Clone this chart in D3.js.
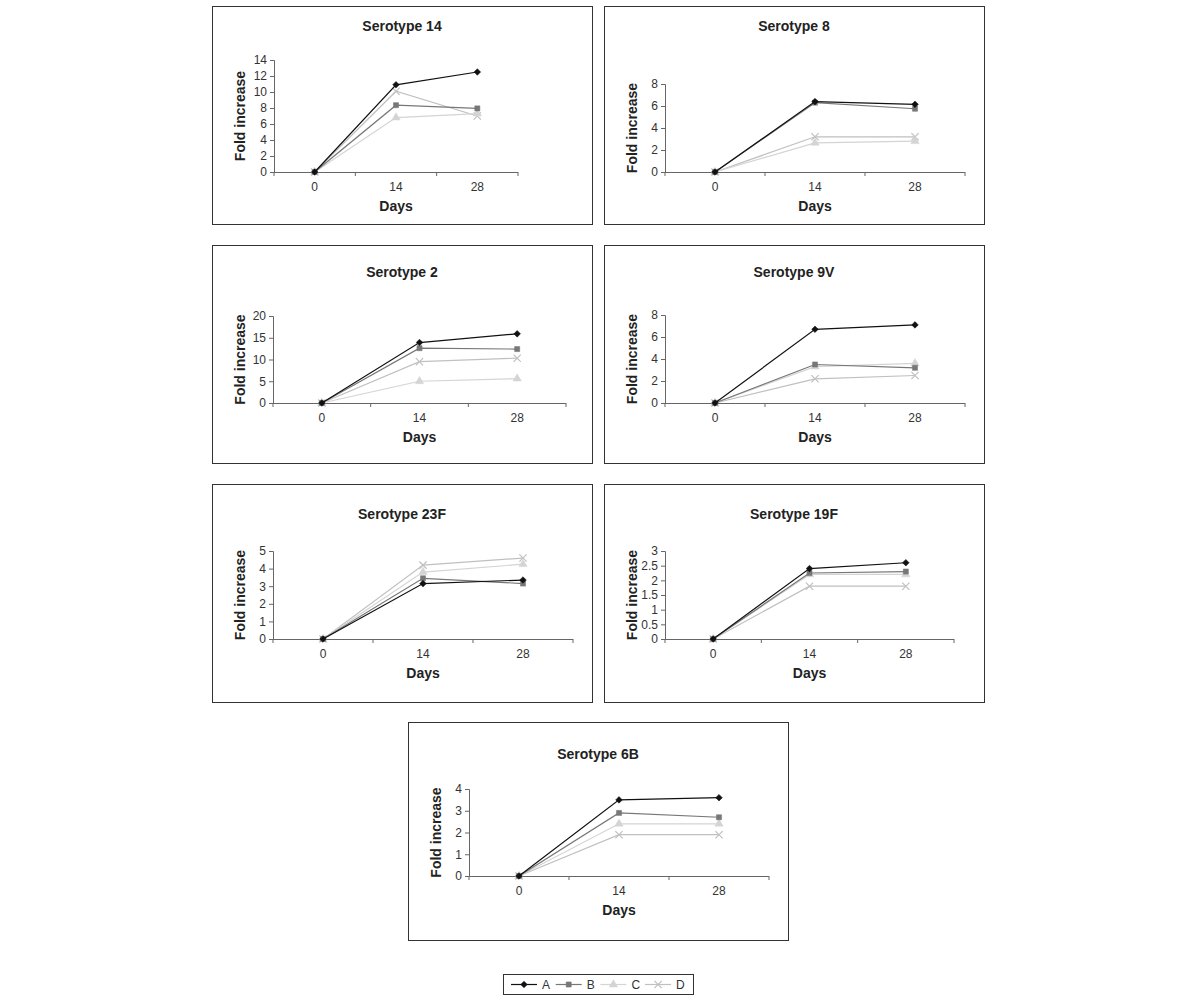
<!DOCTYPE html>
<html>
<head>
<meta charset="utf-8">
<script src="https://d3js.org/d3.v7.min.js"></script>
<style>
body { margin: 0; background: #fff; }
svg { display: block; font-family: "Liberation Sans", Arial, sans-serif; }
.box { fill: #fff; stroke: #333; stroke-width: 1; }
.axis path, .axis line { stroke: #666; }
.axis text { fill: #333; font-size: 12px; }
.title { font-size: 14px; font-weight: bold; fill: #222; }
.alabel { font-size: 14px; font-weight: bold; fill: #222; }
</style>
</head>
<body>
<div id="chart"></div>
<script>
// data
var days = ["0", "14", "28"];
var groups = ["A", "B", "C", "D"];
var titles = ["Serotype 14", "Serotype 8", "Serotype 2", "Serotype 9V", "Serotype 23F", "Serotype 19F", "Serotype 6B"];
var yMax = [14, 8, 20, 8, 5, 3, 4];
var yStep = [2, 2, 5, 2, 1, 0.5, 1];

var valuesA = [[0, 10.9, 12.5], [0, 6.4, 6.15], [0, 13.9, 15.9], [0, 6.7, 7.1], [0, 3.15, 3.35], [0, 2.4, 2.6], [0, 3.5, 3.6]];
var valuesB = [[0, 8.35, 7.95], [0, 6.3, 5.75], [0, 12.6, 12.4], [0, 3.5, 3.2], [0, 3.45, 3.15], [0, 2.25, 2.3], [0, 2.9, 2.7]];
var valuesC = [[0, 6.8, 7.3], [0, 2.65, 2.8], [0, 5.0, 5.6], [0, 3.3, 3.6], [0, 3.8, 4.25], [0, 2.2, 2.2], [0, 2.4, 2.4]];
var valuesD = [[0, 10.1, 7.0], [0, 3.2, 3.2], [0, 9.5, 10.3], [0, 2.2, 2.5], [0, 4.2, 4.6], [0, 1.8, 1.8], [0, 1.9, 1.9]];
var allValues = [valuesA, valuesB, valuesC, valuesD];

// square diamond like the spreadsheet marker
var symbolRhomb = {
    draw: function (ctx, size) {
        var r = Math.sqrt(size) / 2 * Math.SQRT2;
        ctx.moveTo(0, -r); ctx.lineTo(r, 0); ctx.lineTo(0, r); ctx.lineTo(-r, 0); ctx.closePath();
    }
};

// styles
var colors = ["#111", "#777", "#d4d4d4", "#c0c0c0"];
var symbols = [symbolRhomb, d3.symbolSquare, d3.symbolTriangle, d3.symbolX];
var symSize = [22, 26, 30, 36];

// panel layout: box origin + plot area inside the box
var layout = [
    { x: 212, y: 6,   l: 62, r: 306, t: 54,  b: 166, ty: 20 },
    { x: 604, y: 6,   l: 61, r: 361, t: 78,  b: 166, ty: 20 },
    { x: 212, y: 245, l: 61, r: 354, t: 71,  b: 158, ty: 27 },
    { x: 604, y: 245, l: 61, r: 361, t: 70,  b: 158, ty: 27 },
    { x: 212, y: 484, l: 61, r: 361, t: 67,  b: 155, ty: 30 },
    { x: 604, y: 484, l: 61, r: 350, t: 67,  b: 155, ty: 30 },
    { x: 408, y: 722, l: 61, r: 361, t: 67,  b: 154, ty: 32 }
];
var boxW = 380, boxH = 218;

var svg = d3.select("#chart").append("svg")
    .attr("width", 1200)
    .attr("height", 1004);

function drawPanel(i) {
    var L = layout[i];
    var g = svg.append("g").attr("transform", "translate(" + L.x + "," + L.y + ")");

    g.append("rect").attr("class", "box")
        .attr("x", 0.5).attr("y", 0.5)
        .attr("width", boxW).attr("height", boxH);

    var x = d3.scaleBand().domain(days).range([L.l, L.r]);
    var y = d3.scaleLinear().domain([0, yMax[i]]).range([L.b, L.t]);
    var yTicks = d3.range(0, yMax[i] + yStep[i] / 2, yStep[i]);

    // x axis: ticks on category boundaries
    var xa = g.append("g").attr("class", "axis")
        .attr("transform", "translate(0," + L.b + ")")
        .call(d3.axisBottom(x).tickSize(0).tickPadding(10));
    xa.select(".domain").remove();
    xa.append("line").attr("x1", L.l).attr("x2", L.r).attr("y1", 0.5).attr("y2", 0.5);
    xa.selectAll(".bnd").data(d3.range(days.length + 1)).enter()
        .append("line").attr("class", "bnd")
        .attr("x1", function (d) { return L.l + d * x.step(); })
        .attr("x2", function (d) { return L.l + d * x.step(); })
        .attr("y1", 0).attr("y2", 4);

    g.append("g").attr("class", "axis")
        .attr("transform", "translate(" + L.l + ",0)")
        .call(d3.axisLeft(y).tickValues(yTicks).tickSizeOuter(0).tickSize(4).tickPadding(3)
            .tickFormat(function (d) { return d3.format("")(+d.toFixed(1)); }));

    g.append("text").attr("class", "title")
        .attr("x", boxW / 2).attr("y", L.ty).attr("dy", "0.35em")
        .attr("text-anchor", "middle").text(titles[i]);

    g.append("text").attr("class", "alabel")
        .attr("x", (L.l + L.r) / 2).attr("y", L.b + 34).attr("dy", "0.35em")
        .attr("text-anchor", "middle").text("Days");

    g.append("text").attr("class", "alabel")
        .attr("transform", "translate(28," + ((L.t + L.b) / 2) + ") rotate(-90)")
        .attr("dy", "0.35em").attr("text-anchor", "middle").text("Fold increase");

    var line = d3.line()
        .x(function (d, j) { return x(days[j]) + x.bandwidth() / 2; })
        .y(function (d) { return y(d); });

    // draw D first so A ends on top
    for (var s = groups.length - 1; s >= 0; s--) {
        var vals = allValues[s][i];
        g.append("path").datum(vals)
            .attr("d", line).attr("fill", "none")
            .attr("stroke", colors[s]).attr("stroke-width", 1.2);
        g.selectAll(".m" + s).data(vals).enter().append("path")
            .attr("class", "m" + s)
            .attr("transform", function (d, j) {
                return "translate(" + (x(days[j]) + x.bandwidth() / 2) + "," + y(d) + ")";
            })
            .attr("d", d3.symbol().type(symbols[s]).size(symSize[s]))
            .attr("fill", colors[s])
            .attr("stroke", colors[s])
            .attr("stroke-width", s === 3 ? 1.2 : 0.5);
    }
}

for (var i = 0; i < titles.length; i++) drawPanel(i);

// legend
var lg = svg.append("g").attr("transform", "translate(503,974)");
lg.append("rect").attr("x", 0.5).attr("y", 0.5).attr("width", 190).attr("height", 20)
    .attr("fill", "#fff").attr("stroke", "#333");
var item = lg.selectAll(".li").data(groups).enter().append("g")
    .attr("transform", function (d, k) { return "translate(" + (8 + k * 44.7) + ",10.5)"; });
item.append("line").attr("x1", 0).attr("x2", 26).attr("y1", 0).attr("y2", 0)
    .attr("stroke", function (d, k) { return colors[k]; }).attr("stroke-width", 1.2);
item.append("path")
    .attr("transform", "translate(13,0)")
    .attr("d", function (d, k) { return d3.symbol().type(symbols[k]).size(symSize[k])(); })
    .attr("fill", function (d, k) { return colors[k]; })
    .attr("stroke", function (d, k) { return colors[k]; })
    .attr("stroke-width", function (d, k) { return k === 3 ? 1.2 : 0.5; });
item.append("text").attr("x", 31).attr("dy", "0.36em")
    .style("font-size", "12px").attr("fill", "#333").text(function (d) { return d; });
</script>
</body>
</html>
